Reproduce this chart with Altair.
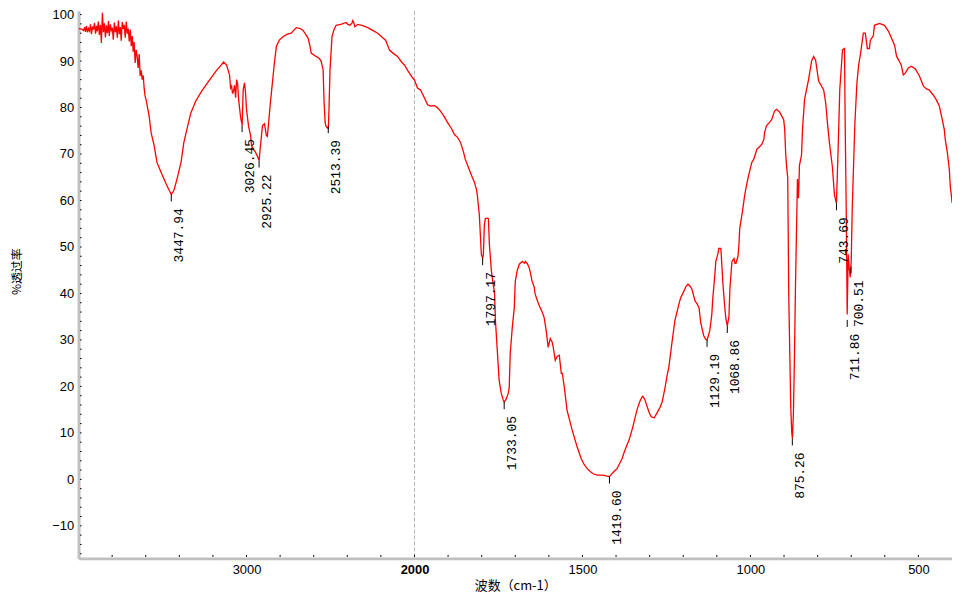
import altair as alt
import pandas as pd

# ---------------- data ----------------
wavenumber = [
    3998, 3982, 3970, 3964, 3959, 3953, 3947, 3941, 3935, 3929, 3923, 3917, 3911, 3905, 3899,
    3893, 3888, 3882, 3876, 3870, 3864, 3858, 3852, 3846, 3840, 3834, 3828, 3822, 3817, 3811,
    3805, 3799, 3793, 3787, 3781, 3775, 3769, 3763, 3757, 3751, 3746, 3740, 3734, 3728, 3722,
    3716, 3710, 3704, 3698, 3692, 3686, 3680, 3675, 3669, 3663, 3657, 3651, 3645, 3639, 3633,
    3627, 3621, 3615, 3609, 3604, 3598, 3580, 3568, 3550, 3533, 3509, 3479, 3462, 3448, 3432,
    3414, 3390, 3373, 3355, 3331, 3302, 3266, 3225, 3183, 3154, 3136, 3118, 3101, 3095, 3089,
    3083, 3077, 3071, 3065, 3059, 3053, 3047, 3035, 3026, 3020, 3012, 3006, 3000, 2988, 2976,
    2970, 2959, 2947, 2935, 2925, 2917, 2905, 2893, 2882, 2876, 2870, 2858, 2846, 2834, 2822,
    2805, 2781, 2757, 2734, 2704, 2680, 2663, 2645, 2633, 2621, 2615, 2586, 2568, 2556, 2544,
    2538, 2532, 2527, 2521, 2513, 2509, 2503, 2491, 2479, 2467, 2438, 2408, 2396, 2385, 2373,
    2367, 2361, 2355, 2337, 2308, 2278, 2249, 2219, 2189, 2172, 2148, 2124, 2101, 2077, 2059,
    2041, 2030, 2012, 2000,
    1991, 1982, 1970, 1961, 1952, 1941, 1932, 1923, 1911, 1902, 1890, 1881, 1872, 1863, 1854,
    1849, 1840, 1834, 1828, 1822, 1816, 1813, 1810, 1807, 1804, 1801, 1797, 1795, 1792, 1789,
    1783, 1780, 1777, 1771, 1765, 1762, 1759, 1753, 1748, 1742, 1736, 1733, 1727, 1721, 1718,
    1715, 1709, 1703, 1700, 1694, 1688, 1679, 1673, 1670, 1664, 1658, 1653, 1650, 1644, 1641,
    1632, 1626, 1620, 1614, 1608, 1602, 1596, 1590, 1587, 1581, 1575, 1569, 1563, 1560, 1554,
    1546, 1531, 1516, 1504, 1495, 1486, 1477, 1468, 1456, 1439, 1427, 1420, 1406, 1397, 1391,
    1382, 1376, 1367, 1361, 1350, 1338, 1329, 1323, 1320, 1314, 1308, 1302, 1296, 1287, 1278,
    1269, 1263, 1254, 1249, 1243, 1234, 1225, 1213, 1207, 1198, 1192, 1186, 1180, 1174, 1165,
    1159, 1153, 1148, 1139, 1133, 1129, 1121, 1115, 1112, 1106, 1103, 1097, 1094, 1088, 1085,
    1082, 1076, 1073, 1069, 1064, 1061, 1055, 1049, 1046, 1043, 1037, 1034, 1032, 1023, 1017,
    1011, 1005, 996, 990, 981, 975, 966, 960, 958, 952, 943, 937, 928, 922, 913,
    907, 901, 898, 895, 892, 889, 886, 883, 880, 877, 875, 872, 869, 866, 863,
    860, 857, 854, 848, 845, 839, 827, 818, 812, 806, 797, 782, 776, 770, 765,
    756, 750, 744, 739, 734, 726, 720, 718, 715, 712, 709, 706, 703, 700, 697,
    693, 689, 683, 678, 672, 666, 664, 658, 652, 646, 643, 634, 631, 616, 601,
    589, 580, 571, 565, 557, 551, 545, 539, 530, 521, 509, 497, 485, 476, 468,
    456, 447, 438, 429, 423, 420, 414, 408, 405, 402, 400,
]
transmittance = [
    97.0, 96.9, 96.6, 97.3, 96.3, 97.6, 96.2, 97.0, 96.5, 97.9, 95.8, 97.4, 96.8, 98.2, 95.9,
    97.6, 96.4, 98.5, 95.6, 97.8, 93.9, 100.4, 96.2, 98.1, 95.1, 97.7, 96.0, 98.6, 95.4, 97.9,
    96.6, 97.2, 94.6, 98.3, 96.2, 97.5, 95.0, 98.7, 95.8, 97.3, 94.4, 98.4, 96.9, 97.8, 95.0,
    98.5, 95.9, 97.0, 94.2, 96.8, 93.2, 95.4, 92.0, 94.1, 89.6, 92.4, 91.0, 88.5, 91.5, 86.8,
    88.0, 86.0, 86.9, 84.0, 82.5, 81.7, 78.2, 74.6, 71.8, 68.2, 66.1, 63.6, 62.3, 61.3, 62.2,
    64.6, 68.2, 72.5, 75.3, 78.9, 81.4, 83.6, 85.7, 87.8, 89.0, 89.8, 89.1, 87.0, 84.2, 84.6,
    83.0, 83.6, 84.8, 82.1, 86.0, 85.0, 81.7, 77.8, 76.2, 83.8, 85.3, 83.2, 79.6, 76.0, 74.0,
    71.8, 71.0, 70.4, 69.5, 68.6, 71.8, 76.1, 76.5, 74.0, 73.8, 76.1, 81.0, 85.3, 89.6, 93.2,
    94.5, 95.3, 95.8, 96.0, 97.2, 97.0, 96.6, 95.6, 94.9, 93.0, 91.7, 91.0, 90.6, 90.0, 88.1,
    81.0, 76.8, 76.0, 75.7, 75.5, 79.6, 88.1, 95.3, 96.8, 97.7, 97.9, 98.3, 97.9, 97.7, 98.1,
    98.7, 98.2, 97.4, 97.9, 97.6, 97.2, 96.6, 96.0, 95.0, 94.5, 92.3, 91.6, 91.0, 89.8, 89.1,
    88.0, 87.4, 86.4, 85.9,
    84.2, 83.8, 82.0, 80.6, 80.3, 80.4, 80.0, 79.3, 78.0, 76.8, 75.5, 74.2, 73.6, 72.5, 70.4,
    68.9, 67.2, 66.1, 65.0, 64.0, 62.5, 61.2, 59.0, 56.9, 52.7, 48.4, 47.6, 48.4, 54.8, 56.1,
    56.2, 56.1, 50.5, 44.8, 41.5, 40.5, 34.1, 27.1, 21.3, 18.6, 17.1, 16.6, 17.3, 18.5, 19.8,
    27.1, 32.6, 36.9, 42.6, 45.0, 46.3, 46.9, 46.5, 46.9, 46.4, 45.4, 43.8, 42.6, 41.5, 39.9,
    38.0, 36.9, 36.0, 34.8, 32.0, 28.4, 30.3, 29.5, 28.4, 25.6, 26.5, 26.7, 22.8, 22.8, 19.8,
    14.9, 10.7, 7.0, 4.5, 3.2, 2.3, 1.7, 1.2, 0.9, 0.9, 0.7, 0.6, 1.7, 2.3, 3.2,
    4.5, 5.8, 7.5, 8.5, 11.3, 14.9, 16.8, 17.7, 17.9, 17.1, 15.8, 14.5, 13.5, 13.2, 14.3,
    15.5, 16.6, 19.8, 22.0, 24.1, 29.2, 34.1, 37.7, 39.2, 40.5, 41.5, 42.0, 41.6, 40.9, 38.4,
    37.8, 36.9, 33.7, 30.9, 30.1, 30.0, 32.0, 35.5, 39.0, 44.0, 46.9, 48.5, 49.7, 49.7, 46.0,
    42.2, 36.7, 34.5, 33.0, 35.0, 41.2, 46.9, 47.5, 46.5, 46.5, 48.0, 50.7, 53.9, 58.0, 61.2,
    63.5, 65.5, 68.2, 68.9, 71.0, 71.4, 72.1, 73.1, 74.6, 76.1, 76.8, 77.4, 79.3, 79.6, 79.0,
    78.2, 77.4, 75.3, 70.0, 67.0, 65.0, 39.9, 27.7, 15.6, 10.0, 8.8, 14.3, 26.2, 41.2, 53.3,
    64.6, 60.5, 67.6, 69.7, 75.3, 81.7, 86.0, 90.0, 91.0, 90.2, 85.7, 83.8, 81.0, 76.1, 72.5,
    67.2, 61.2, 59.4, 71.0, 83.9, 92.4, 92.7, 76.8, 59.0, 35.5, 48.4, 45.5, 43.5, 47.0, 58.2,
    67.6, 76.8, 85.3, 89.1, 91.7, 94.9, 96.0, 96.0, 92.7, 92.7, 94.5, 95.5, 97.7, 98.1, 97.7,
    96.4, 94.9, 93.4, 91.0, 90.0, 89.1, 87.0, 87.4, 88.5, 88.9, 88.3, 86.8, 84.6, 84.0, 83.8,
    82.7, 81.7, 80.4, 77.4, 75.3, 73.1, 70.4, 66.7, 62.9, 61.2, 59.5,
]

peak_labels = ["3447.94", "3026.45", "2925.22", "2513.39", "1797.17", "1733.05", "1419.60",
               "1129.19", "1068.86", "875.26", "743.69", "711.86", "700.51"]
peak_wn = [3447.94, 3026.45, 2925.22, 2513.39, 1797.17, 1733.05, 1419.60,
           1129.19, 1068.86, 875.26, 743.69, 711.86, 700.51]
peak_T = [61.3, 76.2, 68.6, 76.0, 47.6, 16.6, 0.6, 30.0, 33.0, 8.8, 59.4, 34.3, 45.8]

# axis positions are in the compressed coordinate (above 2000 cm-1 the scale is halved)
x_label_positions = [2500, 2000, 1500, 1000, 500]
x_minor_positions = list(range(500, 3000, 100))
y_label_values = list(range(-10, 101, 10))
y_minor_values = list(range(-16, 101, 2))

W, H = 879, 551
XT = "datum.wn > 2000 ? 2000 + (datum.wn - 2000) / 2 : datum.wn"

xscale = alt.Scale(domain=[400, 3000], reverse=True, nice=False, zero=False)
yscale = alt.Scale(domain=[-17, 100.8], nice=False, zero=False)

spec_df = pd.DataFrame({"wn": wavenumber, "T": transmittance})
peaks_df = pd.DataFrame({"wn": peak_wn, "T": peak_T, "label": peak_labels})
xminor_df = pd.DataFrame({"xt": x_minor_positions})
yminor_df = pd.DataFrame({"T": y_minor_values})

x_axis = alt.Axis(
    values=x_label_positions,
    labelExpr="datum.value > 2000 ? format(2000 + (datum.value - 2000) * 2, 'd') : format(datum.value, 'd')",
    labelFontWeight={"condition": {"test": "datum.value === 2000", "value": "bold"}, "value": "normal"},
    title="波数（cm-1）",
    titleFont="Noto Sans CJK SC",
    titleFontSize=13,
    titleFontWeight="normal",
    titleBaseline="top",
    titleY=21,
    labelPadding=5,
)
y_axis = alt.Axis(
    values=y_label_values,
    title="%透过率",
    titleFont="Noto Sans CJK SC",
    titleFontSize=12,
    titleFontWeight="normal",
    titleAngle=270,
    titleBaseline="bottom",
    titleAlign="center",
    titleX=-55,
    titleY=262,
    labelPadding=5,
)


def X():
    return alt.X("xt:Q", scale=xscale, axis=x_axis)


def Y(field="T"):
    return alt.Y(f"{field}:Q", scale=yscale, axis=y_axis)


divider = alt.Chart(pd.DataFrame({"xt": [2000]})).mark_rule(
    color="#b4b4b4", strokeDash=[4, 2], strokeWidth=1
).encode(x=X())

curve = alt.Chart(spec_df).transform_calculate(xt=XT).mark_line(
    color="#ff0000", strokeWidth=1.3
).encode(x=X(), y=Y())

peak_ticks = alt.Chart(peaks_df).transform_calculate(xt=XT, T2="datum.T - 1.5").mark_rule(
    color="black", strokeWidth=1
).encode(x=X(), y=Y(), y2="T2:Q")

peak_text = alt.Chart(peaks_df).transform_calculate(xt=XT).mark_text(
    angle=270, align="right", baseline="top", dx=-14, dy=2,
    font="Liberation Mono", fontSize=13, color="black"
).encode(x=X(), y=Y(), text="label:N")

x_minor = alt.Chart(xminor_df).mark_rule(color="black", strokeWidth=1).encode(
    x=X(), y=alt.value(H - 3.5), y2=alt.value(H - 1.5)
)

y_minor = alt.Chart(yminor_df).mark_rule(color="black", strokeWidth=1).encode(
    y=Y(), x=alt.value(1.5), x2=alt.value(3.0)
)

chart = alt.layer(divider, curve, peak_ticks, peak_text, x_minor, y_minor).properties(
    width=W,
    height=H,
    padding={"left": 71, "top": 1, "right": 0, "bottom": 40},
    autosize=alt.AutoSizeParams(type="none"),
).configure_view(stroke=None).configure_axis(
    domainColor="#c0c0c0",
    domainWidth=3,
    ticks=False,
    tickSize=0,
    grid=False,
    labelFont="Liberation Sans",
    labelFontSize=13,
    labelColor="black",
    titleColor="black",
)

chart.save("out.html", embed_options={"renderer": "svg", "actions": False})
